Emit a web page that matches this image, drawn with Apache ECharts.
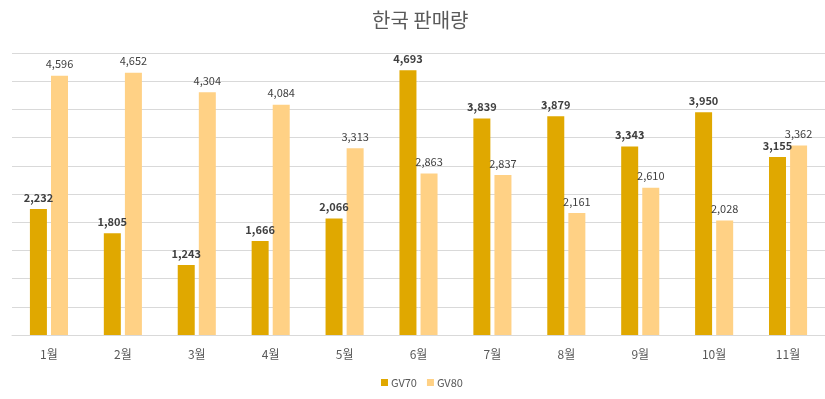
<!DOCTYPE html>
<html>
<head>
<meta charset="utf-8">
<script src="https://cdn.jsdelivr.net/npm/echarts@6/dist/echarts.min.js"></script>
<style>
  html, body { margin: 0; padding: 0; background: #fff; }
  #chart { width: 825px; height: 399px; }
</style>
</head>
<body>
<div id="chart"></div>
<script>
const months = ['1월', '2월', '3월', '4월', '5월', '6월', '7월', '8월', '9월', '10월', '11월']
const gv70 = [2232, 1805, 1243, 1666, 2066, 4693, 3839, 3879, 3343, 3950, 3155]
const gv80 = [4596, 4652, 4304, 4084, 3313, 2863, 2837, 2161, 2610, 2028, 3362]

const font = "'Noto Sans CJK KR', 'Noto Sans', sans-serif"
const fmt = p => p.value.toLocaleString('en-US')

const chart = echarts.init(document.getElementById('chart'))
chart.setOption({
  animation: false,
  textStyle: { fontFamily: font },
  title: {
    text: '한국 판매량',
    left: 367,
    top: 5,
    textStyle: { fontSize: 20, fontWeight: 'normal', color: '#595959', fontFamily: font }
  },
  legend: {
    bottom: 6,
    left: 376,
    itemWidth: 7,
    itemHeight: 7,
    itemGap: 10,
    icon: 'rect',
    textStyle: { fontSize: 11, color: '#595959', fontFamily: font, padding: [0, 0, 0, -2] },
    data: ['GV70', 'GV80']
  },
  grid: { left: 12, right: -2, top: 53, bottom: 64, containLabel: false },
  xAxis: {
    type: 'category',
    data: months,
    axisLine: { lineStyle: { color: '#d9d9d9' } },
    axisTick: { show: false },
    axisLabel: { color: '#595959', fontSize: 12, margin: 13, fontFamily: font }
  },
  yAxis: {
    type: 'value',
    min: 0,
    max: 5000,
    interval: 500,
    axisLabel: { show: false },
    axisLine: { show: false },
    axisTick: { show: false },
    splitLine: { lineStyle: { color: '#d9d9d9' } }
  },
  series: [
    {
      name: 'GV70',
      type: 'bar',
      data: gv70,
      barWidth: 17,
      barGap: '24%',
      itemStyle: { color: '#E0A800' },
      label: {
        show: true, position: 'top', distance: 6, formatter: fmt,
        color: '#404040', fontSize: 11, fontWeight: 'bold', fontFamily: font
      }
    },
    {
      name: 'GV80',
      type: 'bar',
      data: gv80,
      barWidth: 17,
      itemStyle: { color: '#FFD185' },
      label: {
        show: true, position: 'top', distance: 6, formatter: fmt,
        color: '#404040', fontSize: 11, fontFamily: font
      }
    }
  ]
})
</script>
</body>
</html>
